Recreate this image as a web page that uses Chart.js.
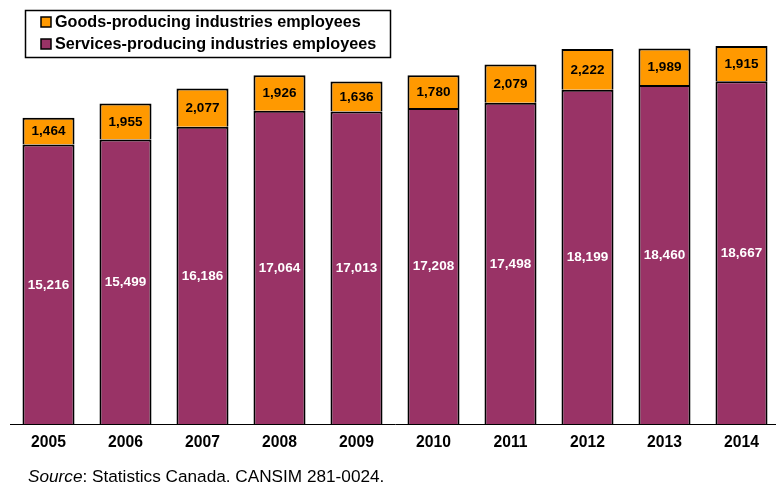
<!DOCTYPE html>
<html>
<head>
<meta charset="utf-8">
<script src="https://cdn.jsdelivr.net/npm/chart.js@4/dist/chart.umd.min.js"></script>
<style>
  html, body { margin: 0; padding: 0; background: #fff; overflow: hidden; }
  #wrap { width: 780px; height: 484px; }
</style>
</head>
<body>
<div id="wrap"><canvas id="c" width="780" height="484"></canvas></div>
<script>
// Employees by industry group, 2005–2014
const years = ['2005', '2006', '2007', '2008', '2009', '2010', '2011', '2012', '2013', '2014'];
const servicesEmployees = [15216, 15499, 16186, 17064, 17013, 17208, 17498, 18199, 18460, 18667];
const goodsEmployees = [1464, 1955, 2077, 1926, 1636, 1780, 2079, 2222, 1989, 1915];
const servicesLabel = 'Services-producing industries employees';
const goodsLabel = 'Goods-producing industries employees';
const sourceNote = ['Source', ': Statistics Canada. CANSIM 281-0024.'];

const FONT = '"Liberation Sans", Arial, Helvetica, sans-serif';
const fmt = v => v.toLocaleString('en-US');

// Value labels centred in each stacked segment
const segmentLabels = {
  id: 'segmentLabels',
  afterDatasetsDraw(chart) {
    const ctx = chart.ctx;
    ctx.save();
    ctx.font = 'bold 13.5px ' + FONT;
    ctx.textAlign = 'center';
    ctx.textBaseline = 'middle';
    chart.data.datasets.forEach((ds, di) => {
      const meta = chart.getDatasetMeta(di);
      meta.data.forEach((bar, i) => {
        const { x, y, base } = bar.getProps(['x', 'y', 'base'], true);
        ctx.fillStyle = ds.labelColor;
        ctx.fillText(fmt(ds.data[i]), x, (y + base) / 2 + 0.5);
      });
    });
    ctx.restore();
  }
};

// Boxed legend in the upper-left corner, goods listed first
const boxedLegend = {
  id: 'boxedLegend',
  afterDraw(chart) {
    const ctx = chart.ctx;
    const items = chart.data.datasets.slice().reverse();
    const bx = 25.5, by = 10.5, bw = 365, bh = 47;
    ctx.save();
    ctx.fillStyle = '#fff';
    ctx.fillRect(bx, by, bw, bh);
    ctx.strokeStyle = '#000';
    ctx.lineWidth = 1.5;
    ctx.strokeRect(bx, by, bw, bh);
    ctx.font = 'bold 16.2px ' + FONT;
    ctx.textBaseline = 'middle';
    ctx.textAlign = 'left';
    items.forEach((ds, k) => {
      const cy = 22 + k * 22;
      ctx.fillStyle = ds.backgroundColor;
      ctx.fillRect(41, cy - 5, 10, 10);
      ctx.lineWidth = 1.5;
      ctx.strokeStyle = '#000';
      ctx.strokeRect(41, cy - 5, 10, 10);
      ctx.fillStyle = '#000';
      ctx.fillText(ds.label, 55, cy + 1);
    });
    ctx.restore();
  }
};

// Source line under the axis
const sourceLine = {
  id: 'sourceLine',
  afterDraw(chart) {
    const ctx = chart.ctx;
    ctx.save();
    ctx.fillStyle = '#000';
    ctx.textBaseline = 'middle';
    ctx.textAlign = 'left';
    let x = 28;
    ctx.font = 'italic 17.2px ' + FONT;
    ctx.fillText(sourceNote[0], x, 477);
    x += ctx.measureText(sourceNote[0]).width;
    ctx.font = '17.2px ' + FONT;
    ctx.fillText(sourceNote[1], x, 477);
    ctx.restore();
  }
};

new Chart(document.getElementById('c'), {
  type: 'bar',
  data: {
    labels: years,
    datasets: [
      {
        label: servicesLabel,
        data: servicesEmployees,
        backgroundColor: '#993366',
        borderColor: '#000',
        borderWidth: 2,
        labelColor: '#fff',
        categoryPercentage: 1,
        barPercentage: 0.676
      },
      {
        label: goodsLabel,
        data: goodsEmployees,
        backgroundColor: '#FF9900',
        borderColor: '#000',
        borderWidth: 2,
        labelColor: '#000',
        categoryPercentage: 1,
        barPercentage: 0.676
      }
    ]
  },
  options: {
    responsive: false,
    animation: false,
    layout: { padding: { left: 10, right: 0, top: 20, bottom: 32 } },
    plugins: {
      legend: { display: false },
      tooltip: { enabled: false }
    },
    scales: {
      x: {
        stacked: true,
        grid: { display: false, drawTicks: false },
        border: { display: true, color: '#000', width: 1 },
        ticks: {
          color: '#000',
          font: { family: FONT, size: 15.7, weight: 'bold' },
          padding: 9,
          maxRotation: 0
        },
        afterFit(scale) { scale.height = 28; }
      },
      y: {
        stacked: true,
        display: false,
        min: 0,
        max: 22000
      }
    }
  },
  plugins: [segmentLabels, boxedLegend, sourceLine]
});
</script>
</body>
</html>
